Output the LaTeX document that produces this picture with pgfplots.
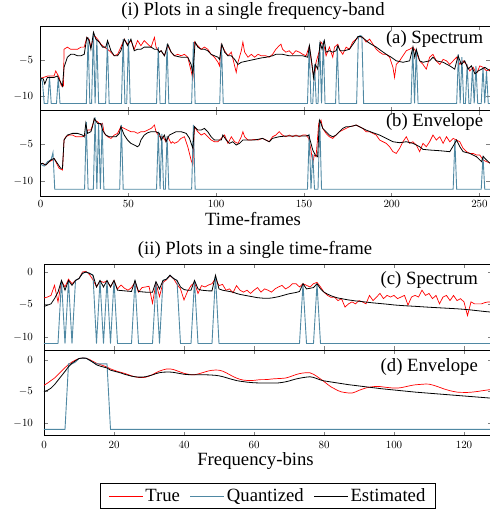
\documentclass[border=0pt]{standalone}
\usepackage{fontspec}
\setmainfont{Liberation Serif}
\usepackage{pgfplots}
\pgfplotsset{compat=1.18}
\definecolor{qblue}{HTML}{4F88A3}
\def\lbl{\fontsize{18.7}{22}\selectfont}

\pgfplotsset{
  panel/.style={
    scale only axis, anchor=north west,
    xmin=0, ymin=-12,
    axis line style={black, line width=0.8pt},
    tick style={gray, line width=0.6pt},
    major tick length=4pt,
    tick label style={font=\fontsize{10.5}{12}\selectfont},
  },
  trueline/.style={red, line width=0.7pt},
  quantline/.style={qblue, line width=0.9pt},
  estline/.style={black, line width=0.8pt},
}

\begin{document}
\begin{tikzpicture}

% ---------- (i) single frequency band ----------
\node[font=\lbl, anchor=base] at (253pt,-15.5pt) {(i) Plots in a single frequency-band};

\begin{axis}[panel, at={(40.7pt,-26pt)}, width=449.3pt, height=84.7pt,
  xmax=256, ymax=-0.28, xtick={0,50,...,250}, xticklabels={},
  ytick={-10,-5}, yticklabel style={xshift=-4pt}]
\addplot[trueline] coordinates {(0,-7.5)(1.5,-7.4)(4,-7.2)(7.6,-7.2)(8.6,-6.5)(10.5,-7.4)(11.8,-8.6)(13,-8.6)(13.3,-3.5)(15.2,-3.2)(17,-3.5)(19,-3.5)(21,-3.5)(22.9,-3.2)(24.8,-3.2)(26.3,-1.85)(27.6,-2.1)(28.6,-3.2)(30.5,-1.6)(32.4,-2.1)(34.3,-2.8)(36.2,-3.2)(38.1,-3.5)(40,-3.9)(41.9,-4.4)(43.8,-4.2)(45.7,-3.2)(47.6,-2.1)(49.5,-2.8)(51.4,-2.3)(53.3,-3.5)(55.2,-2.3)(57.1,-3.0)(59,-2.3)(61,-2.8)(62.9,-3.2)(64.8,-1.85)(65.7,-3.2)(67.6,-3.9)(68.6,-3.7)(70.5,-4.4)(72.4,-3.0)(74.3,-3.9)(76.2,-4.4)(78.1,-4.2)(80,-4.4)(81.9,-4.2)(83.8,-4.6)(85.7,-6.5)(86.7,-7.6)(87.6,-2.5)(89.5,-3.0)(91.4,-3.5)(93.3,-3.2)(95.2,-3.5)(97.1,-4.2)(99,-4.6)(101,-5.3)(101.9,-5.8)(102.9,-2.8)(104.8,-3.7)(106.7,-4.4)(108.6,-3.9)(110.5,-5.8)(111.4,-6.7)(112.4,-5.3)(114.3,-3.7)(115.2,-2.5)(116.2,-3.9)(118.1,-4.6)(120,-4.2)(121.9,-4.6)(123.8,-4.2)(125.7,-4.4)(128.3,-4.4)(130.2,-4.6)(132.1,-4.2)(134,-3.5)(135.9,-3.0)(136.9,-2.8)(137.8,-3.5)(139.7,-3.9)(141.6,-3.7)(143.5,-4.2)(145.4,-3.7)(147.4,-3.9)(149.3,-4.2)(151.2,-4.4)(153,-3.1)(155,-6.5)(155.9,-7.6)(156.9,-5.3)(158.8,-3.7)(159.7,-2.5)(160.7,-2.8)(161.6,-3.2)(162.6,-4.4)(164.5,-3.2)(166.4,-4.6)(167.4,-3.2)(169.3,-2.8)(170.2,-3.5)(172.1,-4.2)(174,-3.2)(175.9,-3.5)(177.8,-2.5)(179.7,-2.1)(181.6,-1.75)(183.5,-1.85)(185.4,-2.5)(187.4,-2.1)(189.3,-2.8)(191.2,-3.5)(193.1,-3.9)(195,-4.2)(196.9,-4.2)(198.8,-4.6)(200.7,-6.0)(201.6,-7.4)(202.6,-5.6)(204.5,-5.1)(206.4,-4.4)(208.3,-3.7)(210.2,-3.5)(212.1,-3.2)(214,-3.9)(215.9,-5.1)(217.8,-5.6)(219.7,-6.25)(221.6,-4.6)(223.5,-4.2)(225.4,-5.1)(227.4,-5.6)(229.3,-4.9)(231.2,-5.1)(233.1,-5.6)(235,-5.1)(236.9,-4.6)(238.8,-5.6)(240.7,-5.1)(242.6,-5.6)(244.5,-6.5)(246.4,-6.0)(248.3,-6.9)(250.2,-5.8)(252.1,-6.0)(254,-6.5)(256,-6.25)};
\addplot[quantline] coordinates {(0,-7.4)(1,-8.0)(2,-11)(4,-11)(5,-7.3)(6,-11)(9,-11)(10,-7.4)(11,-11)(26,-11)(27,-1.85)(28,-11)(29,-11)(30,-1.15)(31,-11)(32,-2.1)(33,-11)(37,-11)(38,-2.5)(39,-11)(46,-11)(47,-2.1)(48,-11)(49,-11)(50,-2.1)(51,-11)(66,-11)(67,-3.2)(68,-11)(71,-11)(72,-2.8)(73,-11)(86,-11)(87,-2.5)(88,-11)(102,-11)(103,-2.8)(104,-11)(152,-11)(153,-3.0)(154,-11)(155,-11)(156,-5.6)(157,-11)(158,-11)(159,-2.55)(160,-11)(161,-2.3)(162,-11)(168,-11)(169,-3.0)(170,-11)(180,-11)(181,-1.75)(182,-1.6)(183,-1.7)(184,-11)(211,-11)(212,-3.2)(213,-11)(214,-3.5)(215,-11)(237,-11)(238,-4.2)(239,-11)(240,-4.6)(241,-11)(242,-11)(243,-5.6)(244,-11)(245,-11)(246,-6.0)(247,-11)(248,-5.8)(249,-11)(251,-11)(252,-6.0)(253,-11)(254,-6.5)(255,-11)(256,-11)};
\addplot[estline] coordinates {(0,-7.5)(1.5,-7.6)(2.3,-8.3)(3.8,-7.4)(7.6,-7.4)(9.5,-7.2)(11.4,-8.1)(12.4,-8.6)(13.3,-6.0)(15.2,-4.6)(17.1,-4.2)(19,-4.2)(21,-4.4)(22.9,-4.4)(24.8,-4.2)(26.3,-1.85)(27.6,-2.3)(28.6,-3.5)(30.1,-1.15)(31.4,-2.1)(33.3,-2.5)(35.2,-3.2)(37.1,-3.2)(38.1,-2.3)(40,-3.7)(41.9,-4.4)(43.8,-4.4)(45.7,-3.7)(47.6,-2.1)(49.5,-3.0)(51.4,-2.1)(53.3,-3.7)(55.2,-3.5)(57.1,-3.5)(59,-3.2)(61,-3.2)(62.9,-3.2)(64.8,-3.5)(66.7,-3.5)(67.6,-3.9)(68.6,-3.7)(70.5,-4.4)(72.4,-2.8)(74.3,-3.9)(76.2,-4.4)(80,-4.6)(83.8,-4.6)(85.7,-5.6)(86.7,-6.9)(88,-2.5)(89.5,-3.2)(91.4,-3.5)(93.3,-3.5)(95.2,-3.7)(97.1,-4.2)(99,-4.4)(101,-4.6)(101.9,-4.9)(103.2,-2.8)(104.8,-3.9)(106.7,-4.4)(108.6,-4.4)(110.5,-4.9)(112.4,-5.6)(114.3,-5.3)(118.1,-5.1)(121.9,-4.9)(125.7,-4.7)(128.6,-4.6)(132.1,-4.4)(134,-4.2)(137.8,-4.2)(141.6,-4.4)(145.4,-4.4)(149.3,-4.4)(152.1,-4.6)(153.1,-3.0)(154.6,-5.6)(155.4,-7.4)(156.5,-5.6)(157.8,-6.25)(159.2,-2.55)(160.3,-3.5)(161.6,-2.3)(162.6,-3.9)(164.5,-3.7)(166.4,-3.9)(168.3,-3.7)(169.3,-3.0)(170.6,-3.7)(173.1,-3.7)(175.9,-3.5)(178.8,-2.5)(180.7,-1.75)(182.6,-1.75)(184.5,-2.1)(186.4,-2.5)(188.3,-2.8)(191.2,-3.2)(194,-3.7)(196.9,-4.2)(199.7,-4.6)(202.6,-5.1)(206.4,-5.3)(210.2,-5.1)(212.1,-3.2)(213.1,-4.6)(214,-3.5)(215.9,-5.1)(217.8,-5.3)(221.6,-5.1)(223.5,-4.6)(225.4,-5.1)(229.3,-5.3)(233.1,-5.8)(235.9,-6.25)(237.8,-4.4)(239.7,-5.6)(241.6,-5.1)(243.5,-6.25)(245.4,-5.8)(247.4,-6.9)(249.3,-6.5)(251.2,-6.25)(253.1,-6.0)(256,-6.5)};
\node[anchor=north east, inner sep=0pt, font=\lbl, xshift=-6.7pt, yshift=-4pt] at (rel axis cs:1,1) {(a) Spectrum};
\end{axis}

\begin{axis}[panel, at={(40.7pt,-110.7pt)}, width=449.3pt, height=86pt,
  xmax=256, ymax=-0.5, xtick={0,50,...,250},
  ytick={-10,-5}, yticklabel style={xshift=-4pt}]
\addplot[trueline] coordinates {(0,-7.6)(1,-7.54)(2.9,-7.77)(4.8,-7.32)(6.7,-7.1)(7.6,-6.88)(8.6,-7.32)(10.5,-8.2)(12.4,-8.44)(13.3,-4.42)(14.3,-3.98)(16.2,-3.76)(18.1,-3.76)(20,-3.98)(21.9,-3.98)(23.8,-3.98)(25.7,-3.76)(26.7,-3.09)(28.6,-3.09)(30.5,-1.75)(32.4,-1.97)(34.3,-2.42)(35.2,-2.2)(36.2,-3.53)(38.1,-3.98)(40,-4.2)(41.9,-3.76)(43.8,-3.53)(45.7,-2.64)(47.6,-2.87)(49.5,-3.09)(51.4,-3.31)(53.3,-3.31)(55.2,-3.53)(57.1,-3.31)(59,-3.31)(61,-3.09)(62.9,-2.87)(64.8,-2.42)(65.7,-3.31)(67.6,-3.98)(69.5,-3.98)(71.4,-4.65)(72.4,-3.98)(74.3,-4.87)(75.2,-4.65)(76.2,-4.87)(78.1,-4.65)(80,-4.2)(81.9,-3.98)(83.8,-5.32)(85.7,-7.1)(86.7,-7.77)(87.6,-2.64)(89.5,-3.31)(91.4,-3.76)(93.3,-3.53)(95.2,-3.98)(97.1,-4.42)(99,-4.65)(101,-4.65)(102.9,-4.2)(104.8,-3.76)(106.7,-4.87)(108.6,-3.98)(110.5,-4.65)(112.4,-4.87)(114.3,-3.98)(115.2,-3.31)(116.2,-3.98)(118.1,-4.42)(120,-4.42)(121.9,-4.34)(123.8,-4.42)(126.4,-4.2)(128.3,-4.42)(130.2,-4.65)(132.1,-3.98)(134,-3.76)(135.9,-3.31)(137.8,-3.76)(139.7,-3.98)(141.6,-3.76)(143.5,-3.98)(145.4,-3.76)(147.4,-3.98)(149.3,-3.76)(151.2,-3.76)(152.7,-4.2)(154,-5.76)(155,-7.54)(155.9,-6.43)(156.9,-6.65)(158.4,-2.2)(159.7,-1.75)(160.7,-2.87)(162.6,-3.53)(164.5,-3.98)(166.4,-4.2)(168.3,-3.76)(170.2,-3.31)(172.1,-3.09)(174,-2.87)(175.9,-2.64)(177.8,-2.55)(179.7,-2.42)(181.6,-2.64)(183.5,-2.87)(185.4,-3.31)(187.4,-3.31)(189.3,-3.53)(191.2,-3.76)(193.1,-4.42)(195,-4.65)(196.9,-4.87)(198.8,-5.32)(200.7,-5.98)(202.6,-6.21)(204.5,-5.54)(206.4,-4.65)(208.3,-3.98)(210.2,-4.87)(212.1,-4.65)(214,-5.09)(215.9,-5.98)(217.8,-4.87)(219.7,-5.32)(221.6,-4.65)(223.5,-3.76)(225.4,-4.42)(227.4,-3.98)(229.3,-4.87)(231.2,-3.98)(233.1,-4.65)(235,-4.2)(236.9,-4.42)(238.8,-4.65)(240.7,-5.54)(242.6,-5.98)(244.5,-6.21)(246.4,-6.21)(248.3,-6.43)(250.2,-6.43)(252.1,-7.1)(254,-7.32)(256,-7.46)};
\addplot[quantline] coordinates {(0,-7.6)(1,-7.8)(2,-7.9)(3,-7.6)(4,-7.3)(5,-7.2)(6,-7.0)(7,-6.1)(8,-11)(25,-11)(26,-2.0)(27,-11)(30,-11)(31,-1.4)(32,-11)(33,-2.2)(34,-11)(35,-2.2)(36,-11)(45,-11)(46,-2.4)(47,-11)(66,-11)(67,-3.3)(68,-11)(69,-3.6)(70,-11)(71,-11)(72,-3.9)(73,-11)(86,-11)(87,-2.4)(88,-11)(152,-11)(153,-3.6)(154,-11)(155,-6.3)(156,-11)(158,-11)(159,-1.75)(160,-11)(235,-11)(236,-4.4)(237,-11)(251,-11)(252,-6.6)(253,-11)(256,-11)};
\addplot[estline] coordinates {(0,-7.6)(1,-7.54)(2.9,-7.77)(5.7,-7.1)(7.6,-6.88)(9.5,-7.54)(11.4,-8.2)(12.4,-8.2)(13.3,-4.42)(15.2,-3.76)(18.1,-3.53)(21,-3.53)(23.8,-3.76)(24.8,-3.98)(25.7,-2.2)(26.7,-3.53)(28.6,-3.31)(29.5,-2.64)(30.5,-1.53)(32.4,-2.2)(34.3,-2.2)(35.2,-3.09)(37.1,-3.76)(39,-3.98)(41,-3.98)(42.9,-3.98)(44.8,-3.53)(45.7,-2.64)(47.6,-3.76)(49.5,-4.42)(51.4,-4.87)(53.3,-5.09)(55.2,-5.32)(56.2,-5.09)(57.1,-4.42)(59,-3.76)(61,-3.44)(62.9,-3.31)(65.7,-3.31)(67.6,-3.53)(68.6,-4.42)(70.5,-3.76)(71.4,-4.65)(73.3,-3.76)(75.2,-3.53)(77.1,-3.31)(80,-3.31)(82.9,-3.53)(84.8,-4.2)(86.7,-5.54)(87.6,-2.64)(89.5,-3.09)(91.4,-3.09)(93.3,-2.87)(95.2,-3.31)(97.1,-3.98)(99,-4.42)(101,-4.42)(102.9,-4.42)(103.8,-3.76)(105.7,-4.42)(107.6,-4.87)(109.5,-4.65)(111.4,-5.09)(113.3,-4.87)(115.2,-4.42)(118.1,-4.42)(121.9,-4.42)(126.4,-4.2)(128.3,-4.42)(130.2,-4.65)(132.1,-4.2)(135.9,-3.98)(139.7,-3.89)(143.5,-3.89)(147.4,-3.89)(151.2,-3.89)(152.7,-3.76)(154,-4.87)(155,-5.76)(156.5,-6.43)(157.8,-6.65)(158.8,-1.75)(159.7,-2.2)(160.7,-2.87)(162.6,-3.31)(164.5,-3.76)(166.4,-3.98)(168.3,-3.76)(170.2,-3.31)(172.1,-2.87)(174,-2.64)(175.9,-2.64)(177.8,-2.55)(179.7,-2.42)(181.6,-2.64)(183.5,-2.87)(185.4,-3.09)(189.3,-3.44)(193.1,-3.76)(196.9,-4.2)(200.7,-4.65)(204.5,-4.78)(208.3,-4.65)(212.1,-4.87)(214,-5.09)(215.9,-5.32)(217.8,-5.67)(221.6,-5.76)(227.4,-5.85)(233.1,-5.98)(235.9,-4.87)(236.9,-4.42)(238.8,-5.32)(240.7,-5.98)(244.5,-6.21)(248.3,-6.65)(251.2,-7.32)(252.1,-6.6)(253.1,-6.88)(256,-7.54)};
\node[anchor=north east, inner sep=0pt, font=\lbl, xshift=-6.7pt, yshift=-2.6pt] at (rel axis cs:1,1) {(b) Envelope};
\end{axis}

\node[font=\lbl, anchor=base] at (253pt,-225pt) {Time-frames};

% ---------- (ii) single time frame ----------
\node[font=\lbl, anchor=base] at (255pt,-254.5pt) {(ii) Plots in a single time-frame};

\begin{axis}[panel, at={(44pt,-264pt)}, width=448pt, height=86pt,
  xmax=128, ymax=1.23, xtick={0,20,...,120}, xticklabels={},
  ytick={-10,-5,0}, yticklabel style={xshift=-7.5pt}]
\addplot[trueline] coordinates {(0,-4.0)(1,-3.85)(2,-3.6)(3,-2.05)(4,-4.6)(5,-1.4)(6,-2.3)(7,-1.1)(8,-1.8)(9,-1.3)(10,-1.0)(11,0.0)(12,0.1)(13,-0.4)(14,-1.2)(15,-2.3)(16,-1.4)(17,-1.6)(18,-1.4)(19,-2.3)(20,-1.3)(21,-2.6)(22,-2.0)(23,-2.5)(24,-2.8)(25,-2.4)(26,-1.6)(27,-3.1)(28,-2.4)(29,-2.3)(30,-2.2)(31,-4.8)(32,-1.7)(33,-3.8)(34,-1.6)(35,-1.2)(36,-0.6)(37,-1.0)(38,-1.9)(39,-2.6)(40,-4.3)(41,-3.0)(42,-2.1)(43,-1.6)(44,-3.3)(45,-2.1)(46,-2.3)(47,-2.0)(48,-1.8)(49,-1.0)(50,-2.1)(51,-1.9)(52,-2.8)(53,-2.6)(54,-3.2)(55,-2.1)(56,-2.8)(57,-3.1)(58,-2.8)(59,-3.3)(60,-2.8)(61,-2.4)(62,-3.1)(63,-2.6)(64,-2.8)(65,-3.1)(66,-2.6)(67,-2.3)(68,-2.05)(69,-2.6)(70,-2.3)(71,-1.8)(72,-1.8)(73,-2.3)(74,-1.8)(75,-2.05)(76,-2.3)(77,-1.8)(78,-1.6)(79,-2.3)(80,-3.1)(81,-3.6)(82,-3.9)(83,-3.85)(84,-4.4)(85,-4.1)(86,-5.4)(87,-4.9)(88,-4.6)(89,-4.9)(90,-4.4)(91,-4.6)(92,-4.9)(93,-3.6)(94,-4.4)(95,-3.85)(96,-3.3)(97,-4.1)(98,-3.6)(99,-3.85)(100,-3.6)(101,-4.1)(102,-3.85)(103,-3.6)(104,-5.1)(105,-3.85)(106,-3.6)(107,-3.85)(108,-2.8)(109,-3.6)(110,-3.3)(111,-4.1)(112,-3.6)(113,-4.9)(114,-3.85)(115,-3.6)(116,-4.4)(117,-3.6)(118,-4.4)(119,-4.1)(120,-4.6)(121,-6.7)(122,-4.6)(123,-4.9)(124,-4.9)(125,-4.9)(126,-4.7)(127,-4.6)(128,-4.6)};
\addplot[quantline] coordinates {(0,-11)(4,-11)(5,-1.3)(6,-11)(7,-1.3)(8,-11)(9,-1.3)(10,-1.0)(11,-0.2)(12,0.0)(13,-0.2)(14,-0.5)(15,-11)(16,-1.3)(17,-11)(18,-1.3)(19,-11)(20,-1.3)(21,-11)(25,-11)(26,-1.3)(27,-11)(31,-11)(32,-1.5)(33,-11)(34,-1.3)(35,-1.1)(36,-0.5)(37,-1.0)(38,-1.3)(39,-11)(42,-11)(43,-1.3)(44,-11)(48,-11)(49,-0.5)(50,-11)(73,-11)(74,-1.8)(75,-11)(77,-11)(78,-1.8)(79,-11)(128,-11)};
\addplot[estline] coordinates {(0,-5.3)(1,-5.1)(2,-4.9)(3,-4.1)(4,-3.1)(5,-1.3)(6,-2.8)(7,-1.3)(8,-2.05)(9,-1.3)(10,-1.0)(11,-0.2)(12,0.0)(13,-0.2)(14,-0.5)(15,-2.3)(16,-1.3)(17,-2.3)(18,-1.3)(19,-2.3)(20,-1.3)(21,-2.8)(22,-2.85)(23,-2.9)(24,-2.95)(25,-3.0)(26,-1.3)(27,-3.0)(28,-3.05)(29,-3.1)(30,-3.1)(31,-3.1)(32,-1.5)(33,-2.6)(34,-1.3)(35,-1.1)(36,-0.5)(37,-1.0)(38,-1.3)(39,-2.3)(40,-2.7)(41,-2.8)(42,-2.8)(43,-1.3)(44,-2.6)(45,-2.8)(46,-2.85)(47,-2.9)(48,-2.9)(49,-0.5)(50,-2.6)(51,-2.8)(52,-2.9)(53,-3.0)(54,-3.1)(55,-3.3)(56,-3.45)(57,-3.55)(58,-3.65)(59,-3.75)(60,-3.85)(61,-3.95)(62,-4.0)(63,-4.05)(64,-4.05)(65,-4.0)(66,-3.9)(67,-3.8)(68,-3.65)(69,-3.5)(70,-3.35)(71,-3.25)(72,-3.15)(73,-3.0)(74,-1.8)(75,-2.6)(76,-2.5)(77,-2.4)(78,-1.8)(79,-2.6)(80,-3.1)(81,-3.4)(82,-3.65)(83,-3.85)(84,-4.0)(85,-4.1)(86,-4.2)(87,-4.3)(88,-4.37)(89,-4.45)(90,-4.5)(92,-4.63)(94,-4.75)(96,-4.85)(98,-4.95)(100,-5.07)(102,-5.15)(104,-5.22)(106,-5.28)(108,-5.35)(110,-5.42)(112,-5.48)(114,-5.54)(116,-5.6)(118,-5.66)(120,-5.74)(122,-5.84)(124,-5.96)(126,-6.08)(128,-6.18)};
\node[anchor=north east, inner sep=0pt, font=\lbl, xshift=-14pt, yshift=-7.7pt] at (rel axis cs:1,1) {(c) Spectrum};
\end{axis}

\begin{axis}[panel, at={(44pt,-350pt)}, width=448pt, height=85.7pt,
  xmax=128, ymax=1.6, xtick={0,20,...,120},
  xticklabel style={yshift=-2.5pt},
  ytick={-10,-5,0}, yticklabel style={xshift=-7.5pt},
  legend columns=3,
  legend image code/.code={\draw[#1] (0pt,0pt) -- (34pt,0pt);},
  legend style={at={(0.5,-0.704)}, anchor=center, font=\lbl,
    draw=black, line width=0.8pt, inner xsep=8pt, inner ysep=3pt,
    /tikz/every even column/.append style={column sep=8pt}}]
\addplot[trueline] coordinates {(0,-4.0)(1,-3.65)(2,-3.25)(3,-2.85)(4,-2.3)(5,-1.75)(6,-1.2)(7,-0.7)(8,-0.3)(9,0.0)(10,0.25)(11,0.32)(12,0.3)(13,0.1)(14,-0.2)(15,-0.5)(16,-0.7)(17,-0.9)(18,-1.1)(19,-1.4)(20,-1.6)(21,-1.8)(22,-1.95)(23,-2.1)(24,-2.3)(25,-2.5)(26,-2.65)(27,-2.75)(28,-2.78)(29,-2.72)(30,-2.55)(31,-2.3)(32,-2.0)(33,-1.75)(34,-1.55)(35,-1.42)(36,-1.4)(37,-1.5)(38,-1.7)(39,-1.9)(40,-2.1)(41,-2.22)(42,-2.32)(43,-2.33)(44,-2.2)(45,-2.05)(46,-1.88)(47,-1.72)(48,-1.62)(49,-1.58)(50,-1.6)(51,-1.75)(52,-2.0)(53,-2.3)(54,-2.6)(55,-2.85)(56,-3.05)(57,-3.18)(58,-3.23)(59,-3.24)(60,-3.22)(61,-3.15)(62,-3.1)(63,-3.1)(64,-3.07)(65,-3.0)(66,-2.96)(67,-2.93)(68,-2.9)(69,-2.85)(70,-2.7)(71,-2.5)(72,-2.3)(73,-2.15)(74,-2.05)(75,-2.0)(76,-2.02)(77,-2.25)(78,-2.6)(79,-3.0)(80,-3.4)(81,-3.85)(82,-4.25)(83,-4.55)(84,-4.85)(85,-5.05)(86,-5.15)(87,-5.22)(88,-5.24)(89,-5.05)(90,-4.8)(91,-4.6)(92,-4.42)(93,-4.3)(94,-4.22)(95,-4.18)(96,-4.2)(97,-4.27)(98,-4.34)(99,-4.4)(100,-4.44)(101,-4.44)(102,-4.38)(103,-4.26)(104,-4.14)(105,-4.02)(106,-3.93)(107,-3.88)(108,-3.84)(109,-3.8)(110,-3.82)(111,-3.95)(112,-4.12)(113,-4.32)(114,-4.52)(115,-4.7)(116,-4.86)(117,-4.98)(118,-5.08)(119,-5.12)(120,-5.13)(121,-5.13)(122,-5.1)(123,-5.04)(124,-4.97)(125,-4.88)(126,-4.8)(127,-4.72)(128,-4.65)};
\addlegendentry{True}
\addplot[quantline] coordinates {(0,-11)(6,-11)(7,-0.6)(8,-0.6)(9,-0.3)(10,0.25)(11,0.32)(12,0.3)(13,0.0)(14,-0.35)(15,-0.6)(16,-0.6)(17,-0.6)(18,-0.6)(19,-11)(128,-11)};
\addlegendentry{Quantized}
\addplot[estline] coordinates {(0,-5.0)(1,-4.8)(2,-4.45)(3,-3.9)(4,-3.2)(5,-2.5)(6,-1.8)(7,-1.05)(8,-0.5)(9,-0.1)(10,0.25)(11,0.32)(12,0.3)(13,0.0)(14,-0.35)(15,-0.75)(16,-0.95)(17,-1.1)(18,-1.25)(19,-1.6)(20,-1.75)(21,-1.9)(22,-2.05)(23,-2.25)(24,-2.4)(25,-2.55)(26,-2.65)(27,-2.7)(28,-2.7)(29,-2.65)(30,-2.5)(31,-2.35)(32,-2.15)(33,-2.0)(34,-1.92)(35,-1.9)(36,-1.9)(37,-1.95)(38,-2.05)(39,-2.15)(40,-2.25)(41,-2.3)(42,-2.33)(44,-2.33)(46,-2.33)(47,-2.35)(48,-2.38)(49,-2.42)(50,-2.5)(51,-2.62)(52,-2.78)(53,-2.95)(54,-3.1)(55,-3.25)(56,-3.35)(57,-3.42)(58,-3.5)(59,-3.55)(60,-3.6)(62,-3.64)(64,-3.65)(66,-3.65)(67,-3.62)(68,-3.55)(69,-3.45)(70,-3.32)(71,-3.15)(72,-3.0)(73,-2.88)(74,-2.78)(75,-2.7)(76,-2.65)(77,-2.75)(78,-2.95)(79,-3.15)(80,-3.3)(87,-3.9)(96.5,-4.55)(106,-5.08)(115.5,-5.5)(128,-6.05)};
\addlegendentry{Estimated}
\node[anchor=north east, inner sep=0pt, font=\lbl, xshift=-14pt, yshift=-8pt] at (rel axis cs:1,1) {(d) Envelope};
\end{axis}

\node[font=\lbl, anchor=base] at (255.5pt,-465.5pt) {Frequency-bins};

\pgfresetboundingbox
\useasboundingbox (0pt,0pt) rectangle (489pt,-513pt);
\end{tikzpicture}
\end{document}
